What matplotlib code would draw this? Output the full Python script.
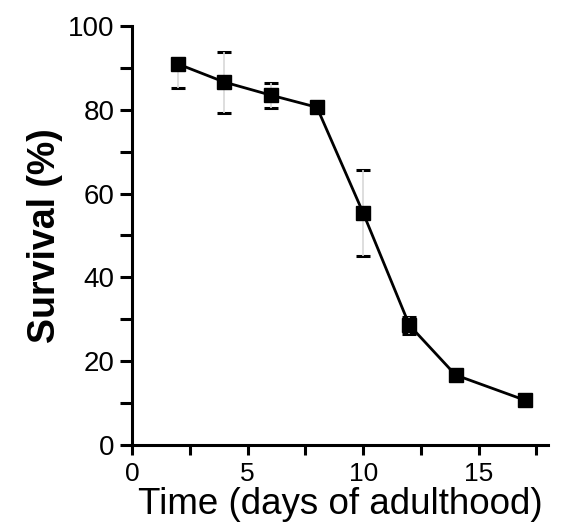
import matplotlib
matplotlib.use("Agg")
import matplotlib.pyplot as plt
from matplotlib.ticker import MultipleLocator

days = [2, 4, 6, 8, 10, 12, 14, 17]
survival = [90.9, 86.6, 83.5, 80.6, 55.4, 28.6, 16.7, 10.7]
err_low = [5.7, 7.3, 3.0, 1.0, 10.3, 2.0, 1.0, 1.0]
err_high = [0.0, 7.3, 3.0, 1.0, 10.3, 2.0, 1.0, 1.0]

plt.rcParams['font.family'] = ['Liberation Sans', 'DejaVu Sans']

fig = plt.figure(figsize=(5.63, 5.27), dpi=100)
ax = fig.add_axes([0.2345, 0.1556, 0.7389, 0.7951])

line, caps, bars = ax.errorbar(days, survival, yerr=[err_low, err_high],
                               fmt='s-', color='black', markersize=10.5,
                               linewidth=2.0, ecolor='#d8d8d8', elinewidth=1.2,
                               capsize=5, capthick=2.2, zorder=3)
for c in caps:
    c.set_color('black')
    c.set_markeredgecolor('black')
    c.set_markerfacecolor('black')
    c.set_zorder(2)

ax.set_xlim(0, 18)
ax.set_ylim(0, 100)
ax.xaxis.set_major_locator(MultipleLocator(5))
ax.xaxis.set_minor_locator(MultipleLocator(2.5))
ax.yaxis.set_major_locator(MultipleLocator(20))
ax.yaxis.set_minor_locator(MultipleLocator(10))

for s in ['top', 'right']:
    ax.spines[s].set_visible(False)
for s in ['left', 'bottom']:
    ax.spines[s].set_linewidth(2.2)

ax.tick_params(axis='y', which='both', direction='out', length=8.5, width=2.2,
               labelsize=20, pad=4)
ax.tick_params(axis='x', which='both', direction='out', length=7, width=2.2,
               labelsize=19, pad=5)

ax.set_xlabel('Time (days of adulthood)', fontsize=26.5, labelpad=1)
ax.set_ylabel('Survival (%)', fontsize=27, fontweight='bold', labelpad=4)

fig.savefig('out.png', dpi=100)
